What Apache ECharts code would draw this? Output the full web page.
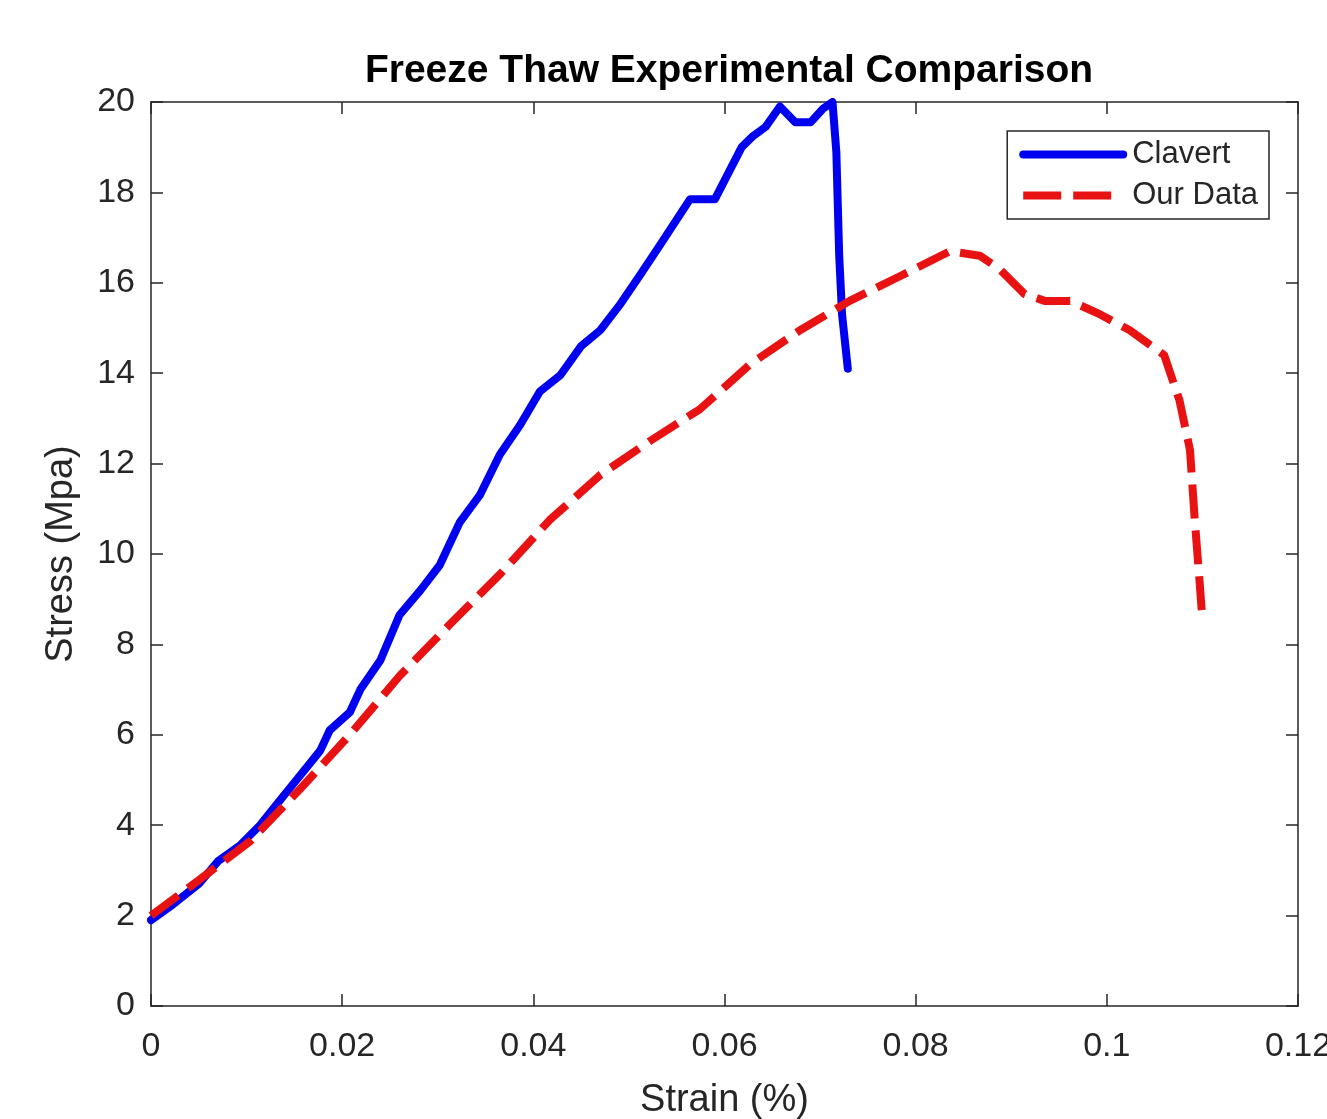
<!DOCTYPE html>
<html>
<head>
<meta charset="utf-8">
<title>Freeze Thaw Experimental Comparison</title>
<script src="https://cdn.jsdelivr.net/npm/echarts@6/dist/echarts.min.js"></script>
<style>
  html, body { margin: 0; padding: 0; background: #fff; }
  #chart { width: 1327px; height: 1119px; }
</style>
</head>
<body>
<div id="chart"></div>
<script>
// Clavert (blue, solid)
const clavertStrain = [0, 0.002, 0.005, 0.007, 0.0093, 0.0114, 0.0135, 0.0156, 0.0177, 0.0187,
  0.0208, 0.0219, 0.024, 0.026, 0.0282, 0.0302, 0.0323, 0.0344, 0.0365, 0.0386,
  0.0407, 0.0428, 0.045, 0.047, 0.049, 0.0511, 0.0533, 0.0564, 0.059, 0.0618,
  0.063, 0.0643, 0.0658, 0.0674, 0.069, 0.0703, 0.0713, 0.0717, 0.072, 0.0723, 0.0729]
const clavertStress = [1.9, 2.2, 2.7, 3.2, 3.55, 4.0, 4.55, 5.1, 5.65, 6.1,
  6.5, 7.0, 7.65, 8.65, 9.2, 9.75, 10.7, 11.3, 12.2, 12.85,
  13.6, 13.95, 14.6, 14.95, 15.5, 16.15, 16.85, 17.85, 17.85, 19.0,
  19.25, 19.45, 19.9, 19.55, 19.55, 19.85, 20.0, 18.9, 16.6, 15.3, 14.1]

// Our Data (red, dashed)
const ourStrain = [0, 0.0051, 0.0104, 0.0156, 0.0208, 0.026, 0.0313, 0.0365, 0.0417, 0.047,
  0.0522, 0.0574, 0.0627, 0.0679, 0.0731, 0.0784, 0.0836, 0.0867, 0.0888, 0.0914,
  0.0935, 0.0962, 0.0993, 0.1024, 0.106, 0.1076, 0.1087, 0.1092, 0.1097, 0.11]
const ourStress = [2.0, 2.8, 3.65, 4.8, 6.0, 7.3, 8.45, 9.55, 10.75, 11.75,
  12.5, 13.2, 14.2, 14.95, 15.6, 16.15, 16.7, 16.6, 16.3, 15.75,
  15.6, 15.6, 15.3, 14.95, 14.4, 13.4, 12.3, 10.75, 9.4, 8.55]

const xTicks = [0, 0.02, 0.04, 0.06, 0.08, 0.1, 0.12]
const yTicks = [0, 2, 4, 6, 8, 10, 12, 14, 16, 18, 20]

const textColor = '#262626'
const fontFamily = '"Liberation Sans", Arial, sans-serif'
const blue = '#0000f0'
const red = '#e81212'

const pairs = (xs, ys) => xs.map((x, i) => [x, ys[i]])

const tickStyle = { inside: true, length: 12, lineStyle: { color: textColor, width: 1.5 } }
const axisLine = { show: true, onZero: false, lineStyle: { color: textColor, width: 1.5 } }

const chart = echarts.init(document.getElementById('chart'))

chart.setOption({
  backgroundColor: '#fff',
  animation: false,
  textStyle: { fontFamily: fontFamily },
  title: {
    text: 'Freeze Thaw Experimental Comparison',
    left: 724,
    top: 47,
    textAlign: 'center',
    textStyle: { fontSize: 39, fontWeight: 'bold', color: '#000', fontFamily: fontFamily }
  },
  grid: { left: 151, right: 29, top: 102, bottom: 113, containLabel: false, outerBoundsMode: 'none' },
  legend: {
    orient: 'vertical',
    right: 58,
    top: 131,
    padding: [8, 11, 8, 12],
    itemGap: 10,
    itemWidth: 100,
    itemHeight: 10,
    borderColor: textColor,
    borderWidth: 1.5,
    backgroundColor: '#fff',
    itemStyle: { opacity: 0 },
    textStyle: { fontSize: 31, color: textColor, padding: [0, 0, 0, 4] },
    data: [
      { name: 'Clavert', lineStyle: { color: blue, width: 8, type: 'solid' } },
      { name: 'Our Data', lineStyle: { color: red, width: 8, type: [38, 12] } }
    ]
  },
  xAxis: [{
    type: 'value',
    min: 0,
    max: 0.12,
    interval: 0.02,
    name: 'Strain (%)',
    nameLocation: 'middle',
    nameGap: 76,
    nameTextStyle: { fontSize: 38, color: textColor },
    axisLine: axisLine,
    axisTick: tickStyle,
    splitLine: { show: false },
    axisLabel: {
      fontSize: 34,
      color: textColor,
      margin: 24,
      formatter: v => {
        const t = xTicks.find(x => Math.abs(x - v) < 1e-9)
        return t === undefined ? '' : String(+t.toFixed(2))
      }
    }
  }, {
    type: 'value',
    position: 'top',
    min: 0,
    max: 0.12,
    interval: 0.02,
    axisLine: axisLine,
    axisTick: tickStyle,
    axisLabel: { show: false },
    splitLine: { show: false }
  }],
  yAxis: [{
    type: 'value',
    min: 0,
    max: 20,
    interval: 2,
    name: 'Stress (Mpa)',
    nameLocation: 'middle',
    nameGap: 70,
    nameTextStyle: { fontSize: 38, color: textColor },
    axisLine: axisLine,
    axisTick: tickStyle,
    splitLine: { show: false },
    axisLabel: {
      fontSize: 34,
      color: textColor,
      margin: 16,
      formatter: v => (yTicks.includes(v) ? String(v) : '')
    }
  }, {
    type: 'value',
    position: 'right',
    min: 0,
    max: 20,
    interval: 2,
    axisLine: axisLine,
    axisTick: tickStyle,
    axisLabel: { show: false },
    splitLine: { show: false }
  }],
  series: [{
    name: 'Clavert',
    type: 'line',
    xAxisIndex: 0,
    yAxisIndex: 0,
    data: pairs(clavertStrain, clavertStress),
    showSymbol: false,
    symbol: 'none',
    lineStyle: { color: blue, width: 8, cap: 'round', join: 'round' },
    itemStyle: { color: blue }
  }, {
    name: 'Our Data',
    type: 'line',
    xAxisIndex: 0,
    yAxisIndex: 0,
    data: pairs(ourStrain, ourStress),
    showSymbol: false,
    symbol: 'none',
    lineStyle: { color: red, width: 8, type: [34, 12], join: 'round' },
    itemStyle: { color: red }
  }]
})
</script>
</body>
</html>
